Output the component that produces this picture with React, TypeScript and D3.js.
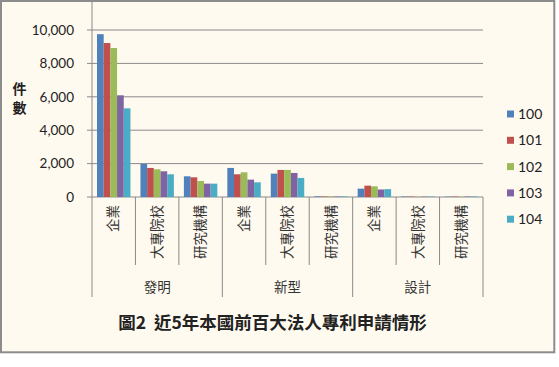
import * as React from "react";
import * as d3 from "d3";

// chart data
const groups = ["發明", "新型", "設計"];
const subCats = ["企業", "大專院校", "研究機構"];
const seriesNames = ["100", "101", "102", "103", "104"];
const colors = ["#4F81BD", "#C0504D", "#9BBB59", "#8064A2", "#4BACC6"];
const v100 = [9750, 1980, 1240, 1740, 1400, 40, 500, 30, 20];
const v101 = [9220, 1740, 1180, 1360, 1620, 30, 680, 25, 25];
const v102 = [8920, 1660, 960, 1480, 1620, 35, 640, 20, 20];
const v103 = [6090, 1540, 800, 1040, 1440, 30, 450, 20, 25];
const v104 = [5310, 1360, 800, 880, 1140, 35, 470, 25, 30];
const yTicks = [0, 2000, 4000, 6000, 8000, 10000];
const title = "圖2  近5年本國前百大法人專利申請情形";

const W = 559;
const H = 367;
const latin = "Lato, 'Noto Sans', 'Noto Sans CJK TC', sans-serif";
const cjk = "'Noto Sans CJK TC', 'Noto Sans', sans-serif";

export default function App() {
  const values = [v100, v101, v102, v103, v104];
  const cats = groups.flatMap((g) => subCats.map((s) => `${g}|${s}`));

  const x = d3.scaleBand<string>().domain(cats).range([92, 483]);
  const bw = x.bandwidth();
  const gap = bw * 0.23;
  const xs = d3
    .scaleBand<string>()
    .domain(seriesNames)
    .range([gap / 2, bw - gap / 2]);
  const y = d3.scaleLinear().domain([0, 10000]).range([197, 30]);
  const fmt = d3.format(",");

  const gx = d3.scaleBand<string>().domain(groups).range([92, 483]);

  return (
    <svg
      width={W}
      height={H}
      style={{ position: "absolute", left: 0, top: 0, background: "#ffffff" }}
    >
      <rect x={1} y={1} width={553.3} height={351.3} fill="#fffaef" stroke="#8c8c8c" strokeWidth={2} />

      {/* gridlines */}
      {yTicks.map((t) => (
        <line key={t} x1={92} x2={483} y1={y(t)} y2={y(t)} stroke="#8a8a8a" strokeWidth={1} />
      ))}
      {/* y axis */}
      <line x1={92} x2={92} y1={2} y2={197} stroke="#8a8a8a" />
      {yTicks.map((t) => (
        <g key={"l" + t}>
          <line x1={87} x2={92} y1={y(t)} y2={y(t)} stroke="#8a8a8a" />
          <text
            x={74}
            y={y(t)}
            dy="0.35em"
            textAnchor="end"
            fontFamily={latin}
            fontSize={13.5}
            fill="#222"
          >
            {fmt(t)}
          </text>
        </g>
      ))}
      <text x={19.5} y={89} dy="0.35em" textAnchor="middle" fontFamily={cjk} fontSize={14} fontWeight="bold" fill="#222">
        件
      </text>
      <text x={19.5} y={108.5} dy="0.35em" textAnchor="middle" fontFamily={cjk} fontSize={14} fontWeight="bold" fill="#222">
        數
      </text>

      {/* bars */}
      {cats.map((c, ci) =>
        seriesNames.map((s, si) => (
          <rect
            key={c + s}
            x={x(c)! + xs(s)!}
            y={y(values[si][ci])}
            width={xs.bandwidth()}
            height={y(0) - y(values[si][ci])}
            fill={colors[si]}
          />
        ))
      )}

      {/* category ticks */}
      {cats.map((c, ci) => (
        <line
          key={"t" + c}
          x1={x(c)!}
          x2={x(c)!}
          y1={197}
          y2={ci % 3 === 0 ? 297 : 265}
          stroke="#8a8a8a"
        />
      ))}
      <line x1={483} x2={483} y1={197} y2={297} stroke="#8a8a8a" />

      {cats.map((c) => {
        const cx = x(c)! + bw / 2;
        return (
          <text
            key={"c" + c}
            transform={`translate(${cx},205) rotate(-90)`}
            textAnchor="end"
            dy="0.35em"
            fontFamily={cjk}
            fontSize={13.5}
            fill="#333"
          >
            {c.split("|")[1]}
          </text>
        );
      })}
      {groups.map((g) => (
        <text
          key={g}
          x={gx(g)! + gx.bandwidth() / 2}
          y={287}
          dy="0.35em"
          textAnchor="middle"
          fontFamily={cjk}
          fontSize={13.5}
          fill="#333"
        >
          {g}
        </text>
      ))}

      {/* legend */}
      {seriesNames.map((s, i) => (
        <g key={"lg" + s} transform={`translate(507,${114 + i * 26.3})`}>
          <rect x={0} y={-3.5} width={7} height={7} fill={colors[i]} />
          <text x={11} dy="0.35em" fontFamily={latin} fontSize={14} fill="#222">
            {s}
          </text>
        </g>
      ))}

      <text
        x={272.5}
        y={323}
        dy="0.35em"
        textAnchor="middle"
        fontFamily={cjk}
        fontSize={17.5}
        fontWeight="bold"
        fill="#222"
        style={{ whiteSpace: "pre" }}
      >
        {title}
      </text>
    </svg>
  );
}
